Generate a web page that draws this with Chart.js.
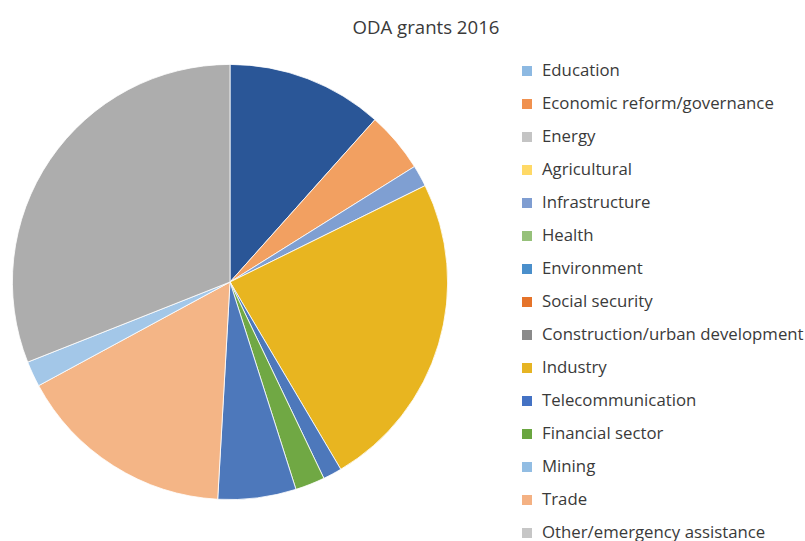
<!DOCTYPE html>
<html>
<head>
<meta charset="utf-8">
<script src="https://cdn.jsdelivr.net/npm/chart.js@4"></script>
<style>
  html, body { margin: 0; padding: 0; background: #fff; overflow: hidden; }
  body { width: 805px; height: 541px; position: relative; font-family: "Open Sans", sans-serif; color: #3a3a3a; }
  #title { position: absolute; left: 0; width: 852px; top: 14px; text-align: center; font-size: 18.6px; }
  #pie-box { position: absolute; left: 12px; top: 64px; width: 436px; height: 436px; }
  #legend { position: absolute; left: 522px; top: 53px; margin: 0; padding: 0; list-style: none; }
  #legend li { height: 33px; line-height: 33px; font-size: 16.8px; white-space: nowrap; }
  #legend span { display: inline-block; width: 10px; height: 10px; margin-right: 10px; vertical-align: 0px; }
</style>
</head>
<body>
<div id="title">ODA grants 2016</div>
<div id="pie-box"><canvas id="pie"></canvas></div>
<ul id="legend"></ul>
<script>
// ----------------------- Data ----------------------------------
// legend entries, in the order they are listed
const categories = [
  'Education', 'Economic reform/governance', 'Energy', 'Agricultural',
  'Infrastructure', 'Health', 'Environment', 'Social security',
  'Construction/urban development', 'Industry', 'Telecommunication',
  'Financial sector', 'Mining', 'Trade', 'Other/emergency assistance'
];
const legendColors = [
  '#8DB9E2', '#F0914F', '#C4C4C4', '#FFD966', '#7F9DD1', '#96C17A', '#4A8FCB',
  '#E5732A', '#8A8A8A', '#E6B423', '#4472C4', '#6AA640', '#92BDE3', '#F4B183', '#C6C6C6'
];

// slices clockwise from 12 o'clock, share of total grants (%)
const sliceLabels = [
  'Education', 'Economic reform/governance', 'Infrastructure', 'Industry',
  'Environment', 'Financial sector', 'Telecommunication', 'Trade',
  'Mining', 'Other/emergency assistance'
];
const sliceShares = [11.6, 4.5, 1.6, 23.8, 1.4, 2.2, 5.8, 16.2, 1.9, 31.0];
const sliceColors = [
  '#2A5697', '#F2A061', '#7F9FD2', '#E8B520', '#4D78BB',
  '#70A844', '#4D78BB', '#F4B586', '#A3C7E8', '#ADADAD'
];

// ----------------------- Legend ----------------------------------
function renderLegend() {
  const listEl = document.getElementById('legend');
  listEl.innerHTML = categories
    .map((c, i) => `<li><span style="background:${legendColors[i]}"></span>${c}</li>`)
    .join('');
}

// ----------------------- Pie ----------------------------------
function renderPie() {
  const ctx = document.getElementById('pie').getContext('2d');
  new Chart(ctx, {
    type: 'pie',
    data: {
      labels: sliceLabels,
      datasets: [{
        data: sliceShares,
        backgroundColor: sliceColors,
        borderColor: '#ffffff',
        borderWidth: 0.8,
        hoverOffset: 0
      }]
    },
    options: {
      responsive: true,
      maintainAspectRatio: false,
      animation: false,
      layout: { padding: 0 },
      plugins: {
        legend: { display: false },
        tooltip: { enabled: false }
      }
    }
  });
}

renderLegend();
renderPie();
</script>
</body>
</html>
